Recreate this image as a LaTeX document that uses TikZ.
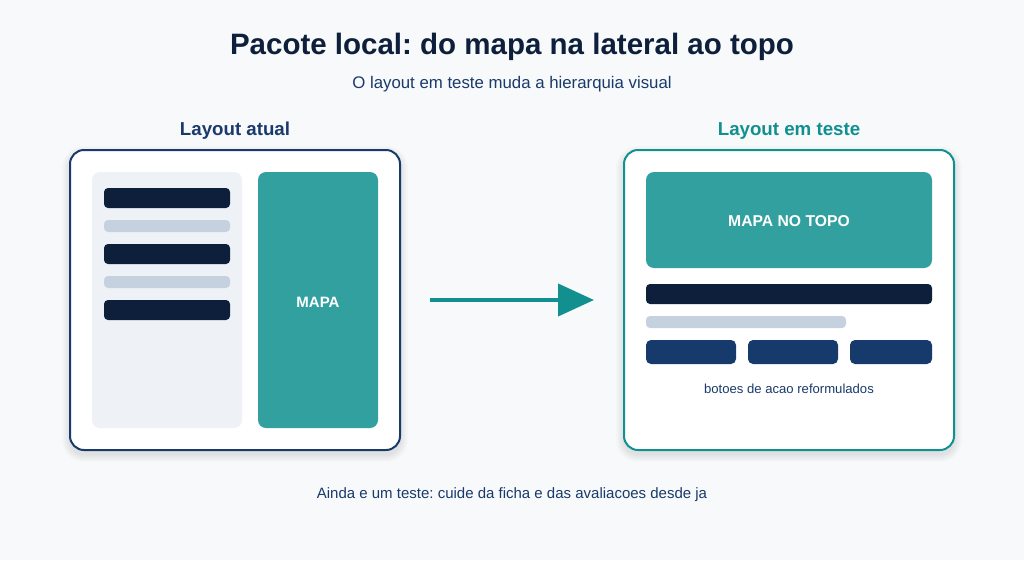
\documentclass[tikz,border=0pt]{standalone}
\usepackage{fontspec}
\setmainfont{Liberation Sans}
\usetikzlibrary{arrows.meta}
\frenchspacing

\definecolor{pagebg}{HTML}{F7F9FB}
\definecolor{navy}{HTML}{0D1F3A}
\definecolor{inkblue}{HTML}{1A3A6B}
\definecolor{mapteal}{HTML}{33A0A0}
\definecolor{tealline}{HTML}{128F8F}
\definecolor{panelgrey}{HTML}{EEF2F7}
\definecolor{softbar}{HTML}{C5D1DE}
\definecolor{btnblue}{HTML}{153A6B}

\tikzset{
  card/.style={draw, line width=2pt, fill=white, rounded corners=14pt,
    inner sep=0pt, outer sep=0pt, minimum width=330pt, minimum height=300pt},
  block/.style={inner sep=0pt, outer sep=0pt, rounded corners=#1},
  block/.default=4pt,
  flow/.style={draw=tealline, line width=4pt,
    -{Triangle[length=36pt, width=32pt]}, shorten <=30pt, shorten >=30pt}
}

\begin{document}
\begin{tikzpicture}[x=1pt,y=-1pt]
\fill[pagebg] (0,0) rectangle (1024,560);
\useasboundingbox (0,0) rectangle (1024,560);

% headings
\node[text=navy, font=\fontsize{29.5}{34}\selectfont\bfseries] (title) at (512,47) {Pacote local: do mapa na lateral ao topo};
\node[text=inkblue, font=\fontsize{16.8}{20}\selectfont] (subtitle) at (512,84) {O layout em teste muda a hierarquia visual};
\node[text=inkblue, font=\fontsize{18.7}{22}\selectfont\bfseries] (oldlabel) at (235,131) {Layout atual};
\node[text=tealline, font=\fontsize{18.7}{22}\selectfont\bfseries] (newlabel) at (789,131) {Layout em teste};

% soft shadows
\foreach \s in {1,...,8} {
  \fill[black, opacity=0.012, rounded corners=14pt+\s pt] (70-\s,154-\s) rectangle (400+\s,454+\s);
  \fill[black, opacity=0.012, rounded corners=14pt+\s pt] (624-\s,154-\s) rectangle (954+\s,454+\s);
}

% current layout
\node[card, draw=inkblue] (oldcard) at (235,300) {};
\node[block=8pt, fill=panelgrey, minimum width=150pt, minimum height=256pt] (sidepanel) at (167,300) {};
\node[block, fill=navy, minimum width=126pt, minimum height=20pt] (lineA) at (167,198) {};
\node[block, fill=softbar, minimum width=126pt, minimum height=12pt] (lineB) at (167,226) {};
\node[block, fill=navy, minimum width=126pt, minimum height=20pt] (lineC) at (167,254) {};
\node[block, fill=softbar, minimum width=126pt, minimum height=12pt] (lineD) at (167,282) {};
\node[block, fill=navy, minimum width=126pt, minimum height=20pt] (lineE) at (167,310) {};
\node[block=8pt, fill=mapteal, minimum width=120pt, minimum height=256pt] (sidemap) at (318,300) {};
\node[text=white, font=\fontsize{15}{18}\selectfont\bfseries] (sidemaptext) at (318,302) {MAPA};

% test layout
\node[card, draw=tealline] (newcard) at (789,300) {};
\node[block=8pt, fill=mapteal, minimum width=286pt, minimum height=96pt] (topmap) at (789,220) {};
\node[text=white, font=\fontsize{15.7}{18}\selectfont\bfseries] (topmaptext) at (789,221) {MAPA NO TOPO};
\node[block, fill=navy, minimum width=286pt, minimum height=20pt] (lineF) at (789,294) {};
\node[block, fill=softbar, minimum width=200pt, minimum height=12pt] (lineG) at (746,322) {};
\node[block=5pt, fill=btnblue, minimum width=90pt, minimum height=24pt] (btnA) at (691,352) {};
\node[block=5pt, fill=btnblue, minimum width=90pt, minimum height=24pt] (btnB) at (793,352) {};
\node[block=5pt, fill=btnblue, minimum width=82pt, minimum height=24pt] (btnC) at (891,352) {};
\node[text=inkblue, font=\fontsize{13.1}{16}\selectfont] (btnnote) at (789,389) {botoes de acao reformulados};

% transition
\draw[flow] (oldcard.east) -- (newcard.west);

\node[text=inkblue, font=\fontsize{15}{18}\selectfont] (footer) at (512,495) {Ainda e um teste: cuide da ficha e das avaliacoes desde ja};
\end{tikzpicture}
\end{document}
